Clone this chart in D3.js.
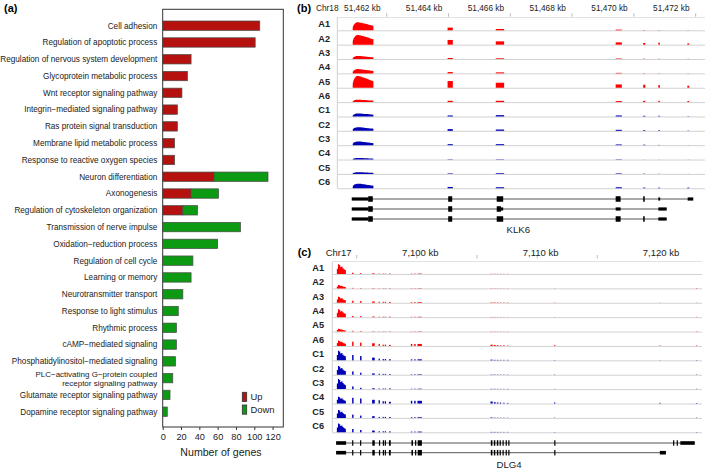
<!DOCTYPE html>
<html><head><meta charset="utf-8">
<script src="https://cdn.jsdelivr.net/npm/d3@7"></script>
<style>
body{margin:0;background:#fff}
svg{display:block;font-family:"Liberation Sans",Arial,Helvetica,sans-serif}
</style>
</head><body>
<svg id="fig" width="709" height="473"></svg>
<script>
// ---------- Panel (a) data ----------
const categories = [
  "Cell adhesion","Regulation of apoptotic process","Regulation of nervous system development",
  "Glycoprotein metabolic process","Wnt receptor signaling pathway","Integrin\u2212mediated signaling pathway",
  "Ras protein signal transduction","Membrane lipid metabolic process","Response to reactive oxygen species",
  "Neuron differentiation","Axonogenesis","Regulation of cytoskeleton organization",
  "Transmission of nerve impulse","Oxidation\u2212reduction process","Regulation of cell cycle",
  "Learning or memory","Neurotransmitter transport","Response to light stimulus","Rhythmic process",
  "cAMP\u2212mediated signaling","Phosphatidylinositol\u2212mediated signaling",
  "PLC\u2212activating G\u2212protein coupled|receptor signaling pathway",
  "Glutamate receptor signaling pathway","Dopamine receptor signaling pathway"
];
const upGenes   = [106,101,31,27,21,16,16,13,13,56,31,22,0,0,0,0,0,0,0,0,0,0,0,0];
const downGenes = [0,0,0,0,0,0,0,0,0,59,30,16,85,60,33,31,22,17,15,15,14,11,8,5];
const xTicks = [0,20,40,60,80,100,120];
const legendLabels = ["Up","Down"];
const xAxisTitle = "Number of genes";

// ---------- Panels (b),(c) data ----------
const samples = ["A1","A2","A3","A4","A5","A6","C1","C2","C3","C4","C5","C6"];

// KLK6 (chr18, kb)
const klk6Chr = "Chr18";
const klk6TickKb = [51463,51465,51467,51469,51471,51473];
const klk6LabelKb = [51462,51464,51466,51468,51470,51472];
const klk6Exons = [[51461.90,51462.57],[51464.97,51465.14],[51466.53,51466.80],[51470.41,51470.61],
                   [51471.30,51471.37],[51471.79,51471.84],[51472.73,51472.79]];
const klk6Coverage = [
  [8.0,2.7,1.3,0.7,0.3,0.3,0.2],
  [9.7,4.7,3.3,2.3,1.7,2.0,1.3],
  [3.0,1.0,0.7,0.5,0.3,0.3,0.2],
  [4.3,1.3,1.0,0.5,0.3,0.3,0.2],
  [11.7,6.7,5.0,3.3,3.0,2.7,2.0],
  [2.4,1.3,1.3,1.0,1.3,1.3,1.0],
  [3.0,1.0,1.3,1.0,0.7,0.7,0.3],
  [3.6,1.7,1.3,1.0,0.7,0.7,0.3],
  [3.7,1.0,1.0,0.7,0.5,0.3,0.1],
  [1.6,0.3,0.3,0.3,0.1,0.1,0.1],
  [1.7,0.5,0.7,0.5,0.3,0.2,0.1],
  [4.6,1.3,1.0,1.0,0.7,0.7,0.7]
];
const klk6FirstExonProfile = [0.35,0.85,1.0,0.98,0.92,0.85,0.78,0.7,0.62,0.55];
const klk6Transcripts = [
  {span:[51461.87,51472.92], blocks:[["utr",51461.87,51462.40],["cds",51462.40,51462.55],["cds",51464.99,51465.12],
    ["cds",51466.56,51466.77],["cds",51470.41,51470.57],["cds",51471.30,51471.35],["utr",51471.79,51471.85],["utr",51472.74,51472.92]]},
  {span:[51461.87,51472.06], blocks:[["utr",51461.87,51462.40],["cds",51462.40,51462.55],["cds",51464.99,51465.12],
    ["cds",51466.56,51466.70],["utr",51466.70,51466.77],["utr",51470.41,51470.57],["utr",51471.79,51472.06]]},
  {span:[51461.87,51472.06], blocks:[["utr",51461.87,51462.40],["cds",51462.40,51462.55],["cds",51464.99,51465.12],
    ["cds",51466.56,51466.77],["cds",51470.41,51470.57],["cds",51471.30,51471.35],["utr",51471.79,51472.06]]}
];
const klk6Gene = "KLK6";

// DLG4 (chr17, kb)
const dlg4Chr = "Chr17";
const dlg4TickKb = [7095,7100,7105,7110,7115,7120];
const dlg4LabelKb = [7100,7110,7120];
const dlg4Exons = [[7093.35,7094.10],[7094.62,7094.74],[7095.28,7095.40],[7096.28,7096.50],[7096.82,7096.92],
  [7097.15,7097.25],[7097.33,7097.43],[7097.68,7097.84],[7099.50,7099.62],[7099.78,7099.90],[7100.05,7100.42],
  [7106.12,7106.30],[7106.40,7106.55],[7106.65,7106.78],[7106.90,7107.00],[7107.18,7107.28],[7107.50,7107.58],
  [7111.40,7111.50],[7120.15,7120.25],[7123.20,7123.30]];
const dlg4Coverage = [
  [9.7,1.3,0.8,0.6,0.4,0.4,0.4,0.4,0.4,0.4,0.4,0.2,0.2,0.2,0.2,0.2,0.2,0,0,0],
  [3.3,0.5,0.4,0.3,0.3,0.3,0.3,0.3,0.3,0.3,0.3,0.2,0.2,0.2,0.2,0.2,0.2,0.2,0,0.4],
  [6.0,2.0,1.7,1.3,1.0,1.0,1.0,0.8,0.7,0.7,0.7,0.4,0.4,0.4,0.4,0.4,0.4,0.3,0.2,0.2],
  [8.0,1.2,1.0,0.6,0.5,0.5,0.5,0.5,0.4,0.4,0.4,0.2,0.2,0.2,0.2,0.2,0.2,0.2,0,0.3],
  [2.7,0.7,0.5,0.3,0.3,0.3,0.3,0.3,0.3,0.3,0.3,0.2,0.2,0.2,0.2,0.2,0.2,0,0,0.3],
  [5.5,4.3,3.3,2.7,2.0,1.3,1.3,1.0,2.0,2.0,2.0,1.3,1.0,0.8,0.7,0.7,0.5,0.8,0.5,0.5],
  [9.5,5.3,4.3,2.7,1.7,1.3,1.3,1.0,1.0,1.0,1.0,0.7,0.5,0.5,0.5,0.5,0.5,0.3,0.2,0.3],
  [8.7,3.3,2.0,1.3,1.0,0.8,0.8,0.6,0.5,0.5,0.5,0.3,0.3,0.3,0.3,0.3,0.3,0.3,0,0.3],
  [10.0,2.7,1.3,0.8,0.6,0.6,0.6,0.6,0.4,0.4,0.4,0.3,0.3,0.3,0.3,0.3,0.3,0.2,0,0.3],
  [6.7,5.7,5.0,3.7,3.3,2.3,2.3,1.7,2.7,2.7,2.7,2.0,1.3,1.0,1.0,0.8,0.6,1.0,0.7,0.5],
  [8.0,3.3,2.3,1.7,1.0,1.0,1.0,0.8,0.7,0.7,0.7,0.5,0.3,0.3,0.3,0.3,0.3,0.3,0,0.3],
  [8.7,3.3,2.3,1.7,1.0,1.0,1.0,0.8,0.7,0.7,0.7,0.4,0.4,0.4,0.4,0.4,0.4,0.3,0,0.3]
];
const dlg4FirstExonProfile = [0.55,1.0,0.92,0.72,0.78,0.6,0.48,0.42,0.32];
const dlg4Inner = [["utr",7093.29,7094.12],["cds",7094.62,7094.72],["cds",7095.28,7095.38],["cds",7096.30,7096.50],
  ["cds",7096.85,7096.93],["cds",7097.17,7097.24],["cds",7097.33,7097.40],["cds",7097.68,7097.83],
  ["cds",7099.55,7099.68],["cds",7099.85,7099.93],["cds",7100.07,7100.42],["cds",7106.15,7106.28],
  ["cds",7106.40,7106.52],["cds",7106.65,7106.77],["cds",7106.88,7106.98],["cds",7107.12,7107.22],
  ["cds",7107.38,7107.42],["cds",7107.60,7107.64],["cds",7111.42,7111.50]];
const dlg4Transcripts = [
  {span:[7093.29,7123.10], blocks: dlg4Inner.concat([["cds",7121.30,7121.38],["cds",7121.60,7121.68],["utr",7121.90,7123.10]])},
  {span:[7093.29,7120.70], blocks: dlg4Inner.concat([["utr",7120.20,7120.70]])}
];
const dlg4Gene = "DLG4";

// ---------- drawing ----------
const svg = d3.select("#fig");
const RED_BAR = "#b5120f", GREEN_BAR = "#0c9a12", BAR_STROKE = "#4a4a4a";

// Panel (a)
const ga = svg.append("g");
ga.append("text").attr("x",4).attr("y",12).attr("font-size",11).attr("font-weight","bold").text("(a)");
const x = d3.scaleLinear().domain([0,131.7]).range([162.7,283.3]);
const y = d3.scaleBand().domain(categories).range([17.3,420.1]).paddingInner(0.44).paddingOuter(0.22);
ga.append("rect").attr("x",x(0)).attr("y",9.3).attr("width",x(131.7)-x(0)).attr("height",427-9.3)
  .attr("fill","none").attr("stroke","#333").attr("stroke-width",1);
categories.forEach((c,i)=>{
  const y0 = y(c), h = y.bandwidth();
  if (upGenes[i]>0) ga.append("rect").attr("x",x(0)).attr("y",y0).attr("width",x(upGenes[i])-x(0)).attr("height",h)
     .attr("fill",RED_BAR).attr("stroke",BAR_STROKE).attr("stroke-width",0.7);
  if (downGenes[i]>0) ga.append("rect").attr("x",x(upGenes[i])).attr("y",y0).attr("width",x(upGenes[i]+downGenes[i])-x(upGenes[i])).attr("height",h)
     .attr("fill",GREEN_BAR).attr("stroke",BAR_STROKE).attr("stroke-width",0.7);
  const parts = c.split("|");
  const cy = y0 + h/2;
  if (parts.length===1) {
    ga.append("text").attr("x",157.3).attr("y",cy).attr("dy","0.35em").attr("text-anchor","end")
      .attr("font-size",8.2).attr("fill","#222").text(c);
  } else {
    ga.append("text").attr("x",157.3).attr("y",cy-4.0).attr("dy","0.35em").attr("text-anchor","end")
      .attr("font-size",8.0).attr("fill","#222").text(parts[0]);
    ga.append("text").attr("x",157.3).attr("y",cy+5.0).attr("dy","0.35em").attr("text-anchor","end")
      .attr("font-size",8.0).attr("fill","#222").text(parts[1]);
  }
});
const xAxis = ga.append("g").attr("transform","translate(0,427)")
  .call(d3.axisBottom(x).tickValues(xTicks).tickSize(3).tickPadding(3));
xAxis.select(".domain").remove();
xAxis.selectAll("line").attr("stroke","#333");
xAxis.selectAll("text").attr("font-size",9.2).attr("fill","#222").attr("font-family","Liberation Sans, Arial, sans-serif");
ga.append("text").attr("x",(x(0)+x(131.7))/2 - 2).attr("y",456).attr("text-anchor","middle")
  .attr("font-size",10.6).attr("fill","#222").text(xAxisTitle);
// legend
[RED_BAR,GREEN_BAR].forEach((col,i)=>{
  const ly = 392.3 + i*12.7;
  ga.append("rect").attr("x",242.3).attr("y",ly).attr("width",4.4).attr("height",9.2)
    .attr("fill",col).attr("stroke","#333").attr("stroke-width",0.8);
  ga.append("text").attr("x",250.5).attr("y",ly+4.6).attr("dy","0.35em").attr("font-size",9.4).attr("fill","#222").text(legendLabels[i]);
});

// Genome browser panel
function browser(o){
  const g = svg.append("g");
  const xs = d3.scaleLinear().domain(o.domain).range(o.range);
  g.append("text").attr("x",o.panelX).attr("y",o.headY).attr("dy","0.35em").attr("font-size",11).attr("font-weight","bold").text(o.panel);
  g.append("text").attr("x",o.chrX).attr("y",o.headY).attr("dy","0.35em").attr("font-size",o.tickFont).attr("fill","#222").text(o.chr);
  o.tickKb.forEach(k=>{
    g.append("line").attr("x1",xs(k)).attr("x2",xs(k)).attr("y1",o.tickY0).attr("y2",o.tickY1).attr("stroke","#aaa").attr("stroke-width",0.8);
  });
  o.labelKb.forEach(k=>{
    g.append("text").attr("x",xs(k)+o.labelShift).attr("y",o.headY).attr("dy","0.35em").attr("text-anchor","middle")
      .attr("font-size",o.tickFont).attr("fill","#222").text(d3.format(",")(k)+" kb");
  });
  const lastBase = o.base0 + (samples.length-1)*o.step;
  g.append("line").attr("x1",o.left).attr("x2",o.right).attr("y1",o.top).attr("y2",o.top).attr("stroke","#e2e2e2");
  g.append("line").attr("x1",o.left).attr("x2",o.left).attr("y1",o.top).attr("y2",lastBase).attr("stroke","#cfcfcf");
  const hScale = d3.scaleLinear().domain([0,14]).range([0,14]);
  samples.forEach((s,i)=>{
    const base = o.base0 + i*o.step;
    const col = s[0]==="A" ? "#ff0000" : "#0000b4";
    g.append("text").attr("x",o.sampleX).attr("y",base-6.3).attr("dy","0.35em").attr("font-size",9.2)
      .attr("font-weight","bold").attr("fill","#222").text(s);
    g.append("line").attr("x1",o.left).attr("x2",o.right).attr("y1",base+0.5).attr("y2",base+0.5).attr("stroke","#d2d2d2").attr("stroke-width",1);
    o.exons.forEach((ex,j)=>{
      const v = o.coverage[i][j];
      if (v<=0) return;
      if (j===0) {
        const prof = o.profile;
        const pts = [[ex[0],0]].concat(prof.map((p,k)=>[ex[0]+(ex[1]-ex[0])*k/(prof.length-1), v*p])).concat([[ex[1],0]]);
        const area = d3.area().x(d=>xs(d[0])).y0(base).y1(d=>base-hScale(d[1])).curve(o.curve);
        g.append("path").attr("d",area(pts)).attr("fill",col);
      } else {
        const x0 = xs(ex[0]), w = Math.max(1.3, xs(ex[1])-x0);
        g.append("rect").attr("x",x0).attr("y",base-hScale(v)).attr("width",w).attr("height",hScale(v)).attr("fill",col);
      }
    });
  });
  // gene models
  o.transcripts.forEach((t,i)=>{
    const ty = o.geneY0 + i*o.geneStep;
    g.append("line").attr("x1",xs(t.span[0])).attr("x2",xs(t.span[1])).attr("y1",ty).attr("y2",ty).attr("stroke","#555").attr("stroke-width",1);
    t.blocks.forEach(b=>{
      const hh = b[0]==="cds" ? o.cdsH : o.utrH;
      const x0 = xs(b[1]), w = Math.max(1.2, xs(b[2])-x0);
      g.append("rect").attr("x",x0).attr("y",ty-hh/2).attr("width",w).attr("height",hh).attr("fill","#000");
    });
  });
  g.append("text").attr("x",o.geneLabelX).attr("y",o.geneLabelY).attr("dy","0.35em").attr("text-anchor","middle")
    .attr("font-size",9.6).attr("fill","#222").text(o.gene);
}

browser({panel:"(b)", panelX:297, chr:klk6Chr, chrX:316, headY:8, tickFont:8.3,
  domain:[51463,51473], range:[386.7,695.7], tickKb:klk6TickKb, labelKb:klk6LabelKb, labelShift:6.5,
  tickY0:13.3, tickY1:16.7, top:17.5, left:337.3, right:705, base0:30.3, step:14.36, sampleX:318.3,
  exons:klk6Exons, coverage:klk6Coverage, profile:klk6FirstExonProfile, curve:d3.curveMonotoneX,
  transcripts:klk6Transcripts, geneY0:199, geneStep:10, cdsH:5.5, utrH:3.2,
  gene:klk6Gene, geneLabelX:518.3, geneLabelY:230});

browser({panel:"(c)", panelX:297.7, chr:dlg4Chr, chrX:325.7, headY:252.3, tickFont:9.5,
  domain:[7095,7115], range:[356.7,597.3], tickKb:dlg4TickKb, labelKb:dlg4LabelKb, labelShift:3.5,
  tickY0:255, tickY1:258.5, top:261.5, left:332.3, right:702, base0:274, step:14.39, sampleX:312.3,
  exons:dlg4Exons, coverage:dlg4Coverage, profile:dlg4FirstExonProfile, curve:d3.curveStepAfter,
  transcripts:dlg4Transcripts, geneY0:443, geneStep:9.7, cdsH:5.5, utrH:3.6,
  gene:dlg4Gene, geneLabelX:509, geneLabelY:465});
</script>
</body></html>
